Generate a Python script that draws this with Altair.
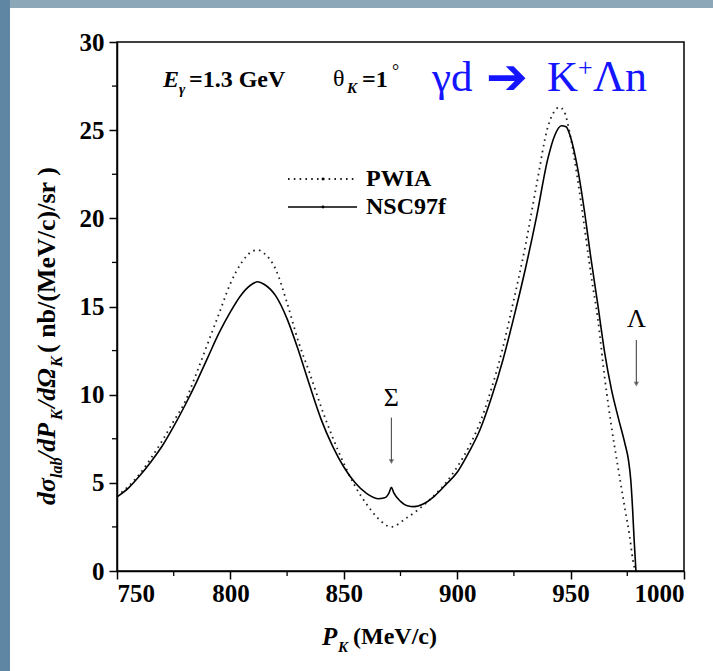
import altair as alt
import pandas as pd

# ---------------- data ----------------
nsc_x = [750, 755, 760, 765, 770, 775, 780, 785, 790, 795, 800, 805, 810, 812, 815, 820,
         825, 830, 835, 840, 845, 850, 855, 860, 865, 868, 870, 871, 872, 875, 878, 881,
         885, 890, 895, 900, 905, 910, 915, 920, 925, 930, 935, 940, 943, 946, 948, 950,
         953, 956, 959, 962, 965, 968, 971, 974, 975.5, 976.5, 977.3, 978, 978.8]
nsc_y = [4.2, 4.7, 5.4, 6.2, 7.1, 8.2, 9.4, 10.7, 12.1, 13.5, 14.7, 15.7, 16.3, 16.4, 16.25, 15.6,
         14.3, 12.5, 10.5, 8.6, 7.1, 5.9, 5.0, 4.4, 4.1, 4.15, 4.45, 4.75, 4.45, 3.95, 3.7, 3.65,
         3.8, 4.25, 4.9, 5.6, 6.7, 8.0, 9.8, 11.9, 14.4, 17.1, 20.1, 23.4, 24.7, 25.25, 25.2, 24.6,
         22.9, 20.5, 17.7, 15.1, 12.4, 10.3, 8.7, 7.2, 6.3, 5.2, 3.6, 1.8, 0.0]

pwia_x = [750, 755, 760, 765, 770, 775, 780, 785, 790, 795, 800, 805, 810, 812, 815, 820,
          825, 830, 835, 840, 845, 850, 855, 860, 865, 871, 877, 883, 890, 895, 900, 905,
          910, 915, 920, 925, 930, 935, 940, 943, 945, 947, 950, 953, 956, 959, 962, 965,
          968, 971, 974, 976, 977.5, 978.5]
pwia_y = [4.25, 4.8, 5.5, 6.4, 7.4, 8.5, 9.6, 11.2, 12.9, 14.6, 16.3, 17.5, 18.15, 18.2, 18.0, 17.1,
          15.2, 13.0, 11.2, 9.3, 7.6, 6.1, 4.8, 3.8, 3.0, 2.5, 2.95, 3.5, 4.3, 5.0, 5.9, 7.0,
          8.4, 10.3, 12.6, 15.4, 18.4, 21.9, 25.2, 26.1, 26.3, 26.1, 24.6, 22.3, 19.6, 16.8, 14.3, 11.0,
          8.2, 5.8, 3.5, 2.0, 0.6, 0.0]

x_ticks = [750, 800, 850, 900, 950, 1000]
x_minor = [775, 825, 875, 925, 975]
y_ticks = [0, 5, 10, 15, 20, 25, 30]
y_minor = [2.5, 7.5, 12.5, 17.5, 22.5, 27.5]

marker_x = ["Σ", "Λ"]
marker_pos = [871, 979]
marker_text_y = [9.8, 14.3]
marker_arrow_top = [8.7, 13.1]
marker_arrow_bot = [6.2, 10.6]

W, H = 567, 529
SERIF = "Liberation Serif"

df_nsc = pd.DataFrame({"p": nsc_x, "v": nsc_y})
df_pw = pd.DataFrame({"p": pwia_x, "v": pwia_y})

xs = alt.Scale(domain=[750, 1000], nice=False)
ys = alt.Scale(domain=[0, 30], nice=False)

xax = alt.Axis(values=x_ticks, title=None, format="d", labelFont=SERIF, labelFontWeight="bold",
               labelFontSize=25, labelColor="black", ticks=True, tickColor="black",
               domainColor="black", tickSize=8, tickWidth=1.5, domainWidth=1.5, labelPadding=2,
               grid=False, zindex=1)
yax = alt.Axis(values=y_ticks, title=None, format="d", labelFont=SERIF, labelFontWeight="bold",
               labelFontSize=25, labelColor="black", ticks=True, tickColor="black",
               domainColor="black", tickSize=8, tickWidth=1.5, domainWidth=1.5, labelPadding=5,
               grid=False, zindex=1)

# slide background strips (top and left)
top_strip = alt.Chart(pd.DataFrame({"a": [0]})).mark_rect(color="#8ca8b8").encode(
    x=alt.value(-117), x2=alt.value(W + 29), y=alt.value(-42), y2=alt.value(-34))
left_strip = alt.Chart(pd.DataFrame({"a": [0]})).mark_rect(color="#5f86a3").encode(
    x=alt.value(-117), x2=alt.value(-107), y=alt.value(-42), y2=alt.value(H + 100))

pw_line = alt.Chart(df_pw).mark_line(
    color="#222222", strokeWidth=1.8, strokeDash=[1.6, 4.2], interpolate="monotone"
).encode(x=alt.X("p:Q", scale=xs, axis=xax), y=alt.Y("v:Q", scale=ys, axis=yax))

nsc_line = alt.Chart(df_nsc).mark_line(
    color="black", strokeWidth=1.6, interpolate="monotone"
).encode(x=alt.X("p:Q", scale=xs), y=alt.Y("v:Q", scale=ys))

xminor = alt.Chart(pd.DataFrame({"t": x_minor})).mark_rule(color="black", strokeWidth=1.3).encode(
    x=alt.X("t:Q", scale=xs), y=alt.value(H), y2=alt.value(H + 5))
yminor = alt.Chart(pd.DataFrame({"t": y_minor})).mark_rule(color="black", strokeWidth=1.3).encode(
    y=alt.Y("t:Q", scale=ys), x=alt.value(0), x2=alt.value(-5))

mk = pd.DataFrame({"lab": marker_x, "p": marker_pos, "ty": marker_text_y,
                   "a1": marker_arrow_top, "a2": marker_arrow_bot})
mk_text = alt.Chart(mk).mark_text(font=SERIF, fontSize=26, color="black", baseline="middle").encode(
    x=alt.X("p:Q", scale=xs), y=alt.Y("ty:Q", scale=ys), text="lab:N")
mk_rule = alt.Chart(mk).mark_rule(color="#555555", strokeWidth=1.2).encode(
    x=alt.X("p:Q", scale=xs), y=alt.Y("a1:Q", scale=ys), y2="a2:Q")
mk_head = alt.Chart(mk).mark_point(shape="triangle-down", filled=True, color="#444444", size=30).encode(
    x=alt.X("p:Q", scale=xs), y=alt.Y("a2:Q", scale=ys))

# legend (inside plot)
leg = pd.DataFrame({"name": ["PWIA", "NSC97f"], "yy": [137, 165]})
leg_pw = alt.Chart(leg.iloc[[0]]).mark_rule(color="#222222", strokeWidth=1.8, strokeDash=[1.6, 4.2]).encode(
    x=alt.value(171), x2=alt.value(240), y=alt.Y("yy:Q", scale=None))
leg_ns = alt.Chart(leg.iloc[[1]]).mark_rule(color="black", strokeWidth=1.6).encode(
    x=alt.value(171), x2=alt.value(240), y=alt.Y("yy:Q", scale=None))
leg_dot = alt.Chart(leg).mark_point(filled=True, color="black", size=8, opacity=1).encode(
    x=alt.value(206), y=alt.Y("yy:Q", scale=None))
leg_txt = alt.Chart(leg).mark_text(font=SERIF, fontWeight="bold", fontSize=24, align="left",
                                   baseline="middle", color="black").encode(
    x=alt.value(249), y=alt.Y("yy:Q", scale=None), text="name:N")

def txt(s, x, y, size, weight="bold", style="normal", color="black", angle=0, align="left", font=SERIF):
    kw = dict(font=font, fontSize=size, fontWeight=weight, fontStyle=style, color=color,
              align=align, baseline="middle")
    if angle:
        kw["angle"] = angle
    return alt.Chart(pd.DataFrame({"s": [s]})).mark_text(**kw).encode(
        x=alt.value(x), y=alt.value(y), text="s:N")

BLUE = "#1414ff"
labels = [
    # header
    txt("E", 46, 38, 24, style="italic"),
    txt("γ", 62, 47, 15, style="italic"),
    txt("=1.3 GeV", 72, 38, 24),
    txt("θ", 216, 37, 24, weight="normal"),
    txt("K", 230, 46, 15, style="italic"),
    txt("=1", 245, 38, 24),
    txt("°", 275, 30, 18, weight="normal"),
    txt("γd", 315, 36, 43, weight="normal", color=BLUE),
    txt("➔", 369, 37, 50, weight="normal", color=BLUE, font="DejaVu Sans"),
    txt("K", 430, 36, 43, weight="normal", color=BLUE),
    txt("+", 461, 26, 26, weight="normal", color=BLUE),
    txt("Λn", 476, 36, 44, weight="normal", color=BLUE),
    # x title
    txt("P", 205, 595, 25, style="italic"),
    txt("K", 221, 605, 15, style="italic"),
    txt("(MeV/c)", 236, 595, 24),
    # y title (rotated, bottom to top)
    txt("dσ", -70, 463, 26, style="italic", angle=270),
    txt("lab", -60, 436, 16, style="italic", angle=270),
    txt("/dP", -70, 417, 26, style="italic", angle=270),
    txt("K", -60, 378, 16, style="italic", angle=270),
    txt("/dΩ", -70, 366, 26, style="italic", angle=270),
    txt("K", -60, 325, 16, style="italic", angle=270),
    txt("( nb/(MeV/c)/sr )", -70, 311, 26, angle=270),
]

chart = alt.layer(
    top_strip, left_strip, pw_line, nsc_line, xminor, yminor, mk_text, mk_rule, mk_head,
    leg_pw, leg_ns, leg_dot, leg_txt, *labels
).properties(
    width=W, height=H,
    autosize=alt.AutoSizeParams(type="none"),
    padding={"left": 117, "top": 42, "right": 29, "bottom": 100},
    background="white",
).configure_view(stroke="black", strokeWidth=1.5)

chart.save("out.html", embed_options={"renderer": "svg", "actions": False})
